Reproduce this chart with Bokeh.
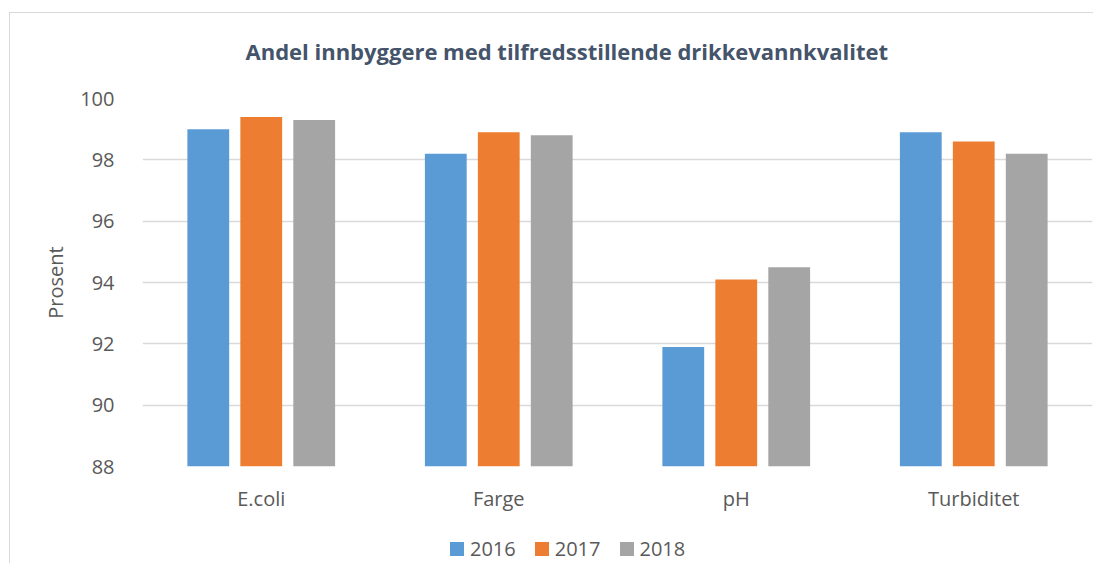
from bokeh.plotting import figure
from bokeh.models import ColumnDataSource, FactorRange, Range1d, Div
from bokeh.layouts import column
from bokeh.transform import dodge
from bokeh.embed import file_html
from bokeh.resources import INLINE

categories = ["E.coli", "Farge", "pH", "Turbiditet"]
years = ["2016", "2017", "2018"]
v2016 = [99.0, 98.2, 91.9, 98.9]
v2017 = [99.4, 98.9, 94.1, 98.6]
v2018 = [99.3, 98.8, 94.5, 98.2]
colors = ["#5B9BD5", "#ED7D31", "#A5A5A5"]
yticks = [88, 90, 92, 94, 96, 98, 100]

FONT = "Open Sans"
TXT = "#595959"

src = ColumnDataSource(dict(cat=categories, y2016=v2016, y2017=v2017, y2018=v2018))

p = figure(frame_width=950, frame_height=368, x_range=FactorRange(*categories), y_range=Range1d(88, 100),
           output_backend="svg", toolbar_location=None,
           min_border_left=142, min_border_right=1, min_border_top=98, min_border_bottom=69,
           title="Andel innbyggere med tilfredsstillende drikkevannkvalitet")
p.outline_line_color = None
p.background_fill_color = "white"
p.border_fill_alpha = 0

p.title.align = "left"
p.title.offset = 103
p.title.standoff = 66
p.title.text_font = FONT
p.title.text_font_size = "22px"
p.title.text_font_style = "bold"
p.title.text_color = "#44546A"

for i, (yr, col) in enumerate(zip(years, colors)):
    p.vbar(x=dodge("cat", (i - 1) * 0.223, range=p.x_range), top="y" + yr, bottom=88,
           width=0.176, source=src, fill_color=col, line_color=None)

p.xgrid.grid_line_color = None
p.ygrid.grid_line_color = "#D9D9D9"
p.ygrid.grid_line_width = 1.5
p.yaxis.ticker = yticks
p.yaxis.axis_line_color = None
p.yaxis.major_tick_line_color = None
p.yaxis.minor_tick_line_color = None
p.yaxis.major_label_text_font = FONT
p.yaxis.major_label_text_font_size = "20px"
p.yaxis.major_label_text_color = TXT
p.yaxis.major_label_standoff = 22
p.yaxis.axis_label = "Prosent"
p.yaxis.axis_label_text_font = FONT
p.yaxis.axis_label_text_font_size = "20px"
p.yaxis.axis_label_text_font_style = "normal"
p.yaxis.axis_label_text_color = TXT
p.yaxis.axis_label_standoff = 8

p.xaxis.axis_line_color = None
p.xaxis.major_tick_line_color = None
p.xaxis.major_label_text_font = FONT
p.xaxis.major_label_text_font_size = "20px"
p.xaxis.major_label_text_color = TXT
p.xaxis.major_label_standoff = 12

# legend (built from the series names and colours)
items_html = "".join(
    f'<span style="display:inline-block;width:14px;height:14px;background:{c};margin-right:6px;"></span>'
    f'<span style="margin-right:19px;">{y}</span>'
    for y, c in zip(years, colors)
)
legend_div = Div(
    text=f'<div style="display:flex;align-items:center;height:28px;padding-left:450px;'
         f'font-family:\'{FONT}\';font-size:20px;line-height:28px;color:{TXT};">{items_html}</div>',
    width=1093, height=28, margin=0,
)

layout = column(p, legend_div, spacing=0)
layout.styles = {
    "background-image": "linear-gradient(#D9D9D9, #D9D9D9), linear-gradient(#D9D9D9, #D9D9D9)",
    "background-size": "1px 100%, 100% 1px",
    "background-position": "9px 12px, 9px 12px",
    "background-repeat": "no-repeat",
    "background-color": "white",
}

open("out.html", "w").write(file_html(layout, INLINE))
